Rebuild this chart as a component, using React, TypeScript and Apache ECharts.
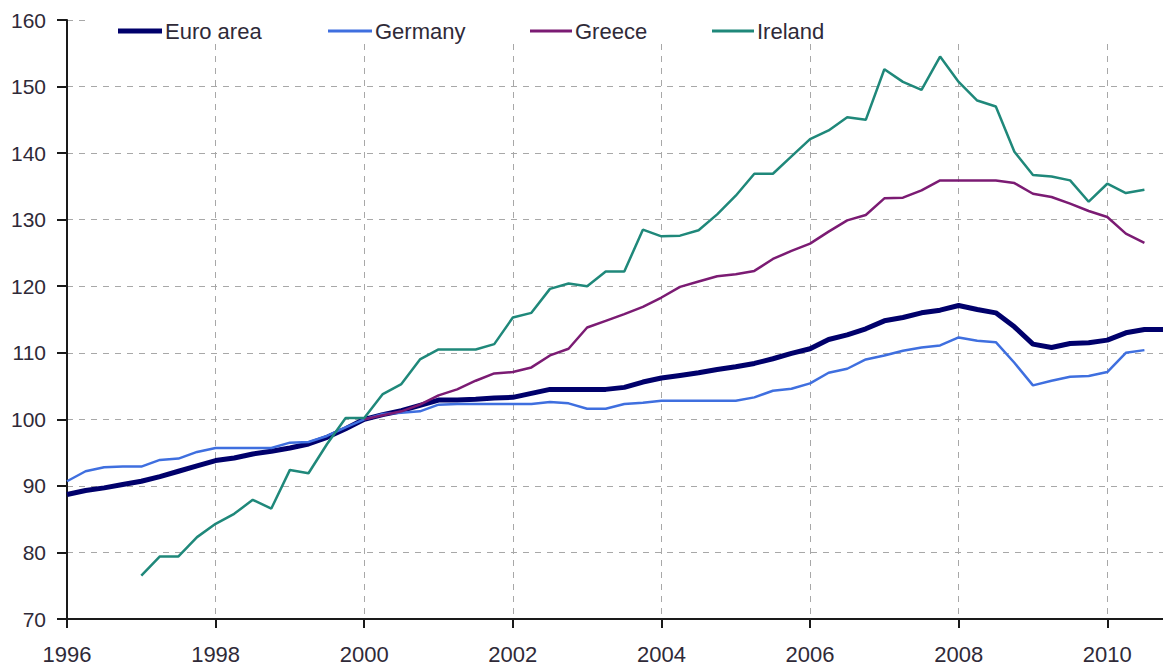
import React, { useEffect, useRef } from 'react';
import * as echarts from 'echarts';

const years = [1996, 1997, 1998, 1999, 2000, 2001, 2002, 2003, 2004, 2005, 2006, 2007, 2008, 2009, 2010];
const quarterNames = ['Q1', 'Q2', 'Q3', 'Q4'];
const categories = years.flatMap((y) => quarterNames.map((q) => `${y} ${q}`));

const seriesNames = ['Euro area', 'Germany', 'Greece', 'Ireland'];

// Quarterly values, 1996 Q1 .. 2010 Q4 (2000 = 100)
const euroArea = [
  88.7, 89.3, 89.7, 90.2,
  90.7, 91.4, 92.2, 93.0,
  93.8, 94.2, 94.8, 95.2,
  95.7, 96.3, 97.3, 98.6,
  100.0, 100.7, 101.3, 102.1,
  102.9, 102.9, 103.0, 103.2,
  103.3, 103.9, 104.5, 104.5,
  104.5, 104.5, 104.8, 105.6,
  106.2, 106.6, 107.0, 107.5,
  107.9, 108.4, 109.1, 109.9,
  110.6, 112.0, 112.7, 113.6,
  114.8, 115.3, 116.0, 116.4,
  117.1, 116.5, 116.0, 113.9,
  111.3, 110.8, 111.4, 111.5,
  111.9, 113.0, 113.5, 113.5,
];

const germany = [
  90.7, 92.2, 92.8, 92.9,
  92.9, 93.9, 94.1, 95.1,
  95.7, 95.7, 95.7, 95.7,
  96.5, 96.6, 97.5, 98.8,
  100.0, 100.8, 101.0, 101.2,
  102.2, 102.3, 102.3, 102.3,
  102.3, 102.3, 102.6, 102.4,
  101.6, 101.6, 102.3, 102.5,
  102.8, 102.8, 102.8, 102.8,
  102.8, 103.3, 104.3, 104.6,
  105.4, 107.0, 107.6, 109.0,
  109.6, 110.3, 110.8, 111.1,
  112.3, 111.8, 111.6, 108.5,
  105.1, 105.8, 106.4, 106.5,
  107.1, 110.0, 110.4, null,
];

const greece = [
  null, null, null, null,
  null, null, null, null,
  null, null, null, null,
  null, null, null, null,
  100.0, 100.6, 101.2, 102.2,
  103.6, 104.5, 105.8, 106.9,
  107.1, 107.8, 109.6, 110.6,
  113.8, 114.8, 115.8, 116.9,
  118.3, 119.9, 120.7, 121.5,
  121.8, 122.3, 124.1, 125.3,
  126.4, 128.2, 129.9, 130.7,
  133.2, 133.3, 134.4, 135.9,
  135.9, 135.9, 135.9, 135.5,
  133.9, 133.4, 132.4, 131.3,
  130.4, 127.9, 126.5, null,
];

const ireland = [
  null, null, null, null,
  76.5, 79.4, 79.4, 82.3,
  84.3, 85.8, 87.9, 86.6,
  92.4, 91.9, 96.3, 100.2,
  100.2, 103.8, 105.3, 109.0,
  110.5, 110.5, 110.5, 111.3,
  115.3, 116.0, 119.6, 120.4,
  120.0, 122.2, 122.2, 128.5,
  127.5, 127.6, 128.4, 130.8,
  133.6, 136.9, 136.9, 139.5,
  142.1, 143.4, 145.4, 145.0,
  152.6, 150.7, 149.5, 154.5,
  150.7, 147.9, 147.0, 140.2,
  136.7, 136.5, 135.9, 132.7,
  135.4, 134.0, 134.5, null,
];

const seriesData = [euroArea, germany, greece, ireland];
const seriesColors = ['#00006b', '#3f6fdf', '#7b1b73', '#1f887a'];
const seriesWidths = [5, 2.5, 2.5, 2.5];
const legendLefts = [118, 328, 530, 712];
const legendIconWidths = [44, 44, 42, 42];

const FONT = '"Liberation Sans", Arial, sans-serif';
const TEXT_COLOR = '#2f2a38';

export default function App() {
  const ref = useRef<HTMLDivElement>(null);

  useEffect(() => {
    if (!ref.current) return;
    const chart = echarts.init(ref.current, undefined, { renderer: 'svg' });
    chart.setOption({
      animation: false,
      backgroundColor: '#ffffff',
      textStyle: { fontFamily: FONT },
      grid: { left: 67, right: 0, top: 20, bottom: 51, containLabel: false },
      graphic: [
        {
          type: 'rect',
          z: 10,
          shape: { x: 85, y: 6, width: 1078, height: 37 },
          style: { fill: '#ffffff' },
        },
      ],
      legend: seriesNames.map((name, i) => ({
        data: [name],
        left: legendLefts[i],
        top: 20,
        padding: 0,
        z: 20,
        icon: 'rect',
        itemWidth: legendIconWidths[i],
        itemHeight: seriesWidths[i] >= 4 ? 5 : 3,
        itemGap: 0,
        textStyle: { fontSize: 22, color: TEXT_COLOR, fontFamily: FONT, padding: [0, 0, 0, -2] },
      })),
      xAxis: {
        type: 'category',
        data: categories,
        boundaryGap: false,
        axisLine: { show: true, lineStyle: { color: '#1a1a1a', width: 2 } },
        axisTick: { show: true, interval: 7, length: 9, lineStyle: { color: '#1a1a1a', width: 2 } },
        axisLabel: {
          interval: 7,
          margin: 24,
          fontSize: 22,
          color: TEXT_COLOR,
          fontFamily: FONT,
          formatter: (v: string) => v.slice(0, 4),
        },
        splitLine: {
          show: true,
          interval: 7,
          lineStyle: { color: '#a8a8a8', width: 1, type: [6, 6] },
        },
      },
      yAxis: {
        type: 'value',
        min: 70,
        max: 160,
        interval: 10,
        axisLine: { show: true, lineStyle: { color: '#1a1a1a', width: 2 } },
        axisTick: { show: true, length: 10, lineStyle: { color: '#1a1a1a', width: 2 } },
        axisLabel: { margin: 21, fontSize: 21, color: TEXT_COLOR, fontFamily: FONT },
        splitLine: { show: true, lineStyle: { color: '#a8a8a8', width: 1, type: [6, 6] } },
      },
      series: seriesNames.map((name, i) => ({
        name,
        type: 'line',
        data: seriesData[i],
        showSymbol: false,
        symbol: 'none',
        smooth: false,
        connectNulls: false,
        lineStyle: { color: seriesColors[i], width: seriesWidths[i] },
        itemStyle: { color: seriesColors[i] },
        emphasis: { disabled: true },
      })),
    });
    return () => chart.dispose();
  }, []);

  return (
    <div
      ref={ref}
      style={{ position: 'absolute', left: 0, top: 0, width: 1163, height: 670 }}
    />
  );
}
